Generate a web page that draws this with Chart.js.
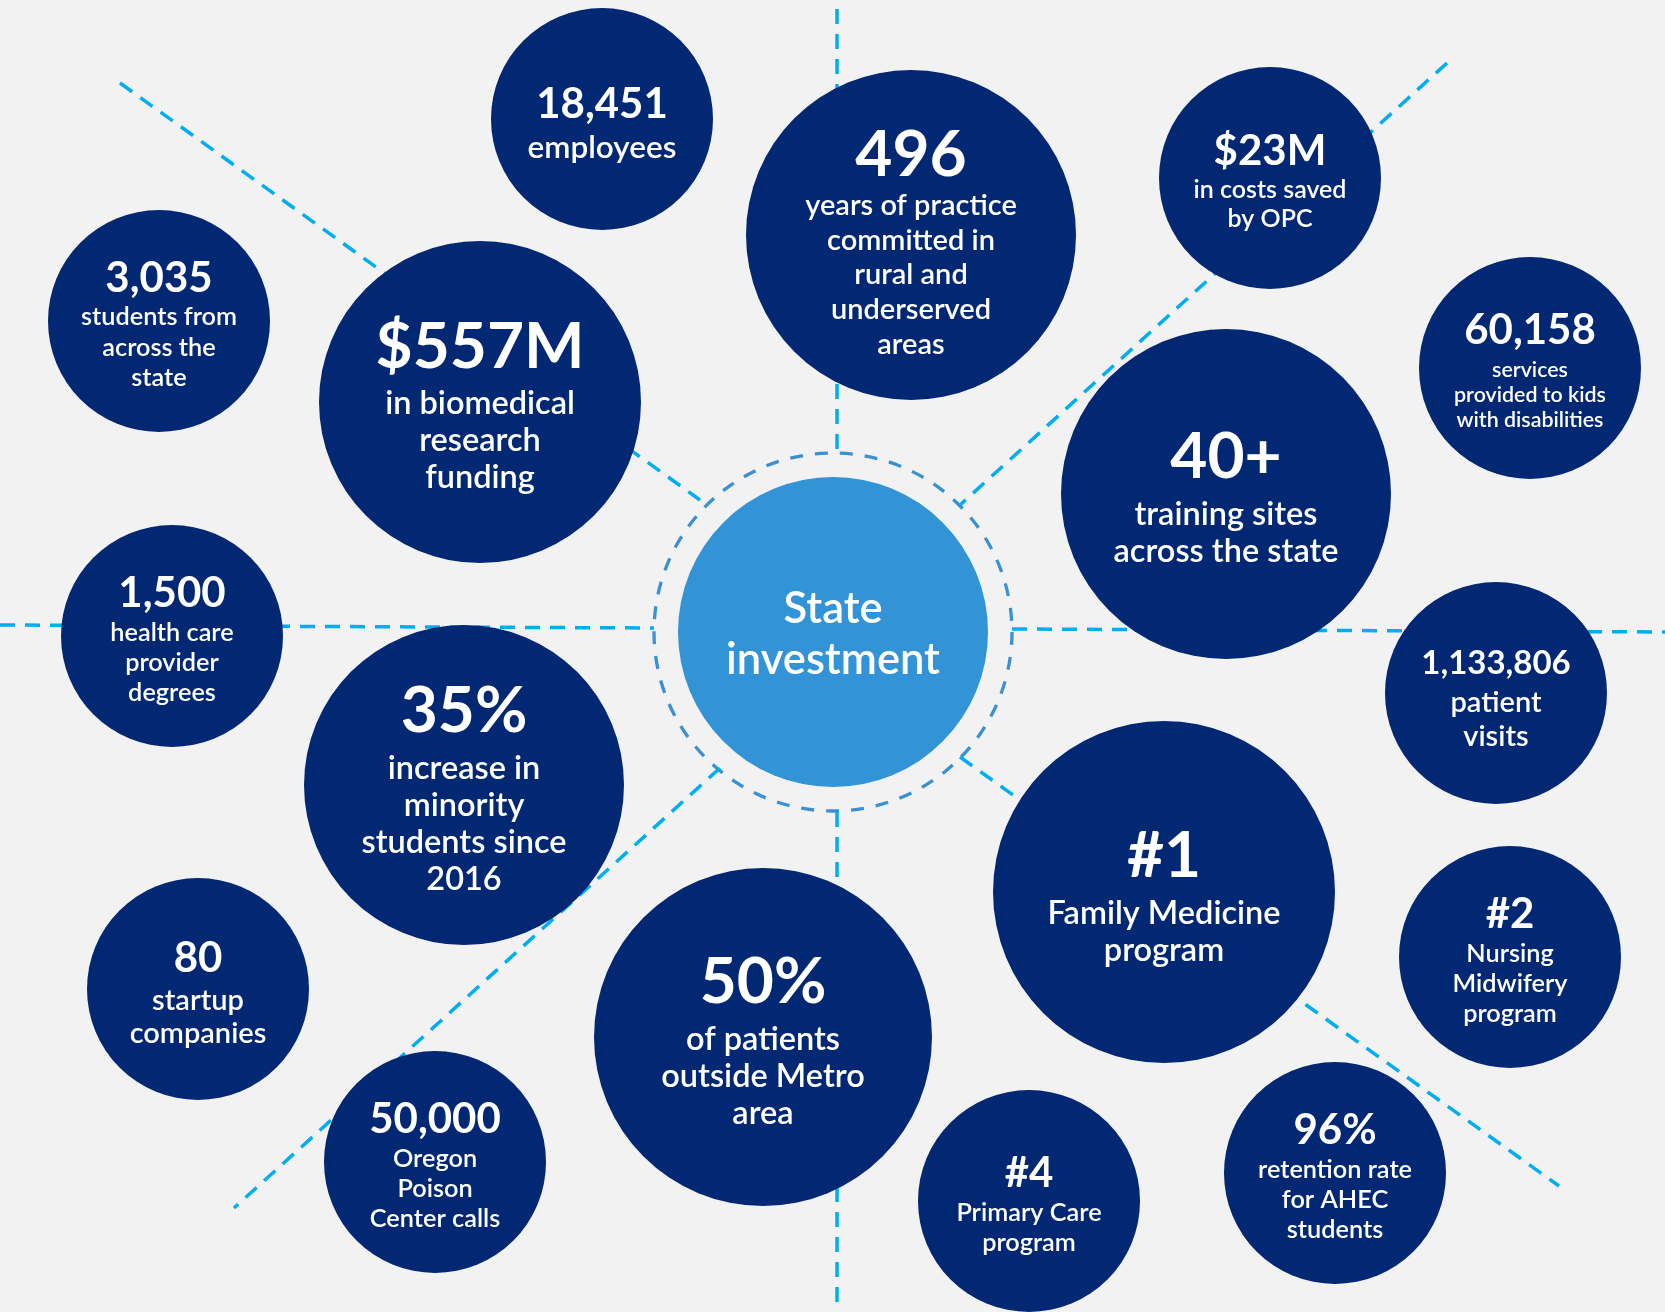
<!DOCTYPE html>
<html>
<head>
<meta charset="utf-8">
<script src="https://cdn.jsdelivr.net/npm/chart.js@4"></script>
<style>
    html, body { margin: 0; padding: 0; background: #f2f2f2; }
    #wrap { width: 1665px; height: 1312px; }
</style>
</head>
<body>
<div id="wrap"><canvas id="myChart" width="1665" height="1312"></canvas></div>
<script>
// headline figure and caption lines of each bubble
var headline = ["18,451", "496", "$23M", "3,035", "$557M", "60,158", "40+", "1,500", "35%",
    "1,133,806", "#1", "#2", "80", "50%", "50,000", "#4", "96%"];
var caption = [
    ["employees"],
    ["years of practice", "committed in", "rural and", "underserved", "areas"],
    ["in costs saved", "by OPC"],
    ["students from", "across the", "state"],
    ["in biomedical", "research", "funding"],
    ["services", "provided to kids", "with disabilities"],
    ["training sites", "across the state"],
    ["health care", "provider", "degrees"],
    ["increase in", "minority", "students since", "2016"],
    ["patient", "visits"],
    ["Family Medicine", "program"],
    ["Nursing", "Midwifery", "program"],
    ["startup", "companies"],
    ["of patients", "outside Metro", "area"],
    ["Oregon", "Poison", "Center calls"],
    ["Primary Care", "program"],
    ["retention rate", "for AHEC", "students"]
];
// bubble data (x, y on the picture grid, r = bubble size)
var bubbleX = [602, 911, 1270, 159, 480, 1530, 1226, 172, 464, 1496, 1164, 1510, 198, 763, 435, 1029, 1335];
var bubbleY = [119, 235, 178, 321, 402, 368, 494, 636, 785, 693, 892, 957, 989, 1037, 1162, 1201, 1173];
var bubbleR = [111, 165, 111, 111, 161, 111, 165, 111, 160, 111, 171, 111, 111, 169, 111, 111, 111];

var centerLabel = ["State", "investment"];
var centerPoint = { x: 833, y: 632, r: 155 };

// dashed spokes: start and end points
var spokeStart = [[837, 9], [837, 812], [0, 625], [1012, 629], [120, 83], [1447, 63], [720, 768], [960, 757]];
var spokeEnd = [[837, 453], [837, 1312], [654, 628], [1665, 632], [700, 500], [960, 505], [234, 1208], [1559, 1186]];

var navy = "#022873";
var sky = "#3294d6";
var cyan = "#00aeef";

var styleOverrides = {
    "18,451": { desc: 31.5, gap: 44 },
    "496": { desc: 29, line: 34.8, gap: 50, shift: 15 },
    "$23M": { desc: 25, line: 29 },
    "3,035": { line: 30.5 },
    "60,158": { desc: 21.4, line: 25 },
    "1,133,806": { head: 33, desc: 29, line: 34 },
    "80": { desc: 29, line: 33, gap: 42 }
};

function textStyle(i) {
    var s = bubbleR[i] > 140
        ? { head: 64, desc: 32.5, line: 37, gap: 57 }
        : { head: 42, desc: 25.3, line: 30, gap: 39 };
    s.shift = bubbleR[i] * 0.065;
    var o = styleOverrides[headline[i]];
    if (o) Object.assign(s, o);
    return s;
}

var infoPlugin = {
    id: "infoText",
    beforeDraw: function (chart) {
        var ctx = chart.ctx;
        ctx.save();
        ctx.fillStyle = "#f2f2f2";
        ctx.fillRect(0, 0, chart.width, chart.height);
        ctx.restore();
    },
    beforeDatasetsDraw: function (chart) {
        // dashed ring round the centre bubble
        var el = chart.getDatasetMeta(spokeStart.length).data[0];
        var ctx = chart.ctx;
        ctx.save();
        ctx.strokeStyle = "#3b90d2";
        ctx.lineWidth = 3.3;
        ctx.setLineDash([13, 12]);
        ctx.beginPath();
        ctx.arc(el.x, el.y, el.options.radius + 24, 0, Math.PI * 2);
        ctx.stroke();
        ctx.restore();
    },
    afterDatasetsDraw: function (chart) {
        var ctx = chart.ctx;
        ctx.save();
        ctx.fillStyle = "#ffffff";
        ctx.textAlign = "center";
        ctx.textBaseline = "middle";

        var c = chart.getDatasetMeta(spokeStart.length).data[0];
        ctx.font = "600 43.5px Lato";
        ctx.fillText(centerLabel[0], c.x, c.y - 23.5);
        ctx.fillText(centerLabel[1], c.x, c.y + 27.5);

        var meta = chart.getDatasetMeta(spokeStart.length + 1);
        meta.data.forEach(function (el, i) {
            var s = textStyle(i);
            var n = caption[i].length;
            var total = s.gap + (n - 1) * s.line;
            var top = el.y - total / 2 + s.shift;
            ctx.font = "bold " + s.head + "px Lato";
            ctx.fillText(headline[i], el.x, top);
            ctx.font = "600 " + s.desc + "px Lato";
            for (var k = 0; k < n; k++) {
                ctx.fillText(caption[i][k], el.x, top + s.gap + k * s.line);
            }
        });
        ctx.restore();
    }
};

var datasets = [];
for (var i = 0; i < spokeStart.length; i++) {
    datasets.push({
        type: "line",
        data: [
            { x: spokeStart[i][0], y: spokeStart[i][1] },
            { x: spokeEnd[i][0], y: spokeEnd[i][1] }
        ],
        borderColor: cyan,
        borderWidth: 3.5,
        borderDash: [15, 10],
        pointRadius: 0,
        fill: false,
        order: 2,
        clip: false
    });
}
datasets.push({
    label: "State investment",
    data: [centerPoint],
    backgroundColor: sky,
    borderWidth: 0,
    order: 1
});
datasets.push({
    label: "stats",
    data: headline.map(function (h, i) {
        return { x: bubbleX[i], y: bubbleY[i], r: bubbleR[i] };
    }),
    backgroundColor: navy,
    borderWidth: 0,
    order: 1
});

var ctx = document.getElementById("myChart").getContext("2d");
var myChart = new Chart(ctx, {
    type: "bubble",
    data: { datasets: datasets },
    options: {
        responsive: false,
        animation: false,
        events: [],
        layout: { padding: 0, autoPadding: false },
        plugins: {
            legend: { display: false },
            tooltip: { enabled: false }
        },
        scales: {
            x: { type: "linear", min: 0, max: 1665, display: false },
            y: { type: "linear", min: 0, max: 1312, reverse: true, display: false }
        }
    },
    plugins: [infoPlugin]
});
</script>
</body>
</html>
